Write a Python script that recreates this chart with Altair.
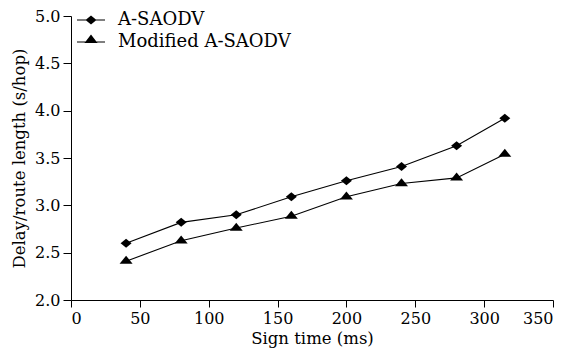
import altair as alt
import pandas as pd

# ---- data ----
sign_time = [40, 80, 120, 160, 200, 240, 280, 315]
a_saodv = [2.60, 2.82, 2.90, 3.09, 3.26, 3.41, 3.63, 3.92]
modified_a_saodv = [2.41, 2.625, 2.76, 2.885, 3.09, 3.23, 3.29, 3.54]
series_names = ["A-SAODV", "Modified A-SAODV"]
x_ticks = [0, 50, 100, 150, 200, 250, 300, 350]
y_ticks = [2.0, 2.5, 3.0, 3.5, 4.0, 4.5, 5.0]

rows = []
for name, vals in zip(series_names, [a_saodv, modified_a_saodv]):
    for t, v in zip(sign_time, vals):
        rows.append({"time": t, "value": v, "series": name})
df = pd.DataFrame(rows)

FONT = "DejaVu Serif"

# marker shapes (custom paths)
diamond = "M-1.1,0L0,-0.9L1.1,0L0,0.9Z"
triangle = "M0,-1.07L1.3,0.53L-1.3,0.53Z"
# legend symbols: thin bar (line) through the marker
leg_diamond = "M-1.4,-0.055L1.4,-0.055L1.4,0.055L-1.4,0.055Z M-0.55,0L0,-0.45L0.55,0L0,0.45Z"
leg_triangle = "M-1.4,-0.055L1.4,-0.055L1.4,0.055L-1.4,0.055Z M0,-0.75L0.65,0.1L-0.65,0.1Z"

x_enc = alt.X("time:Q", title="Sign time (ms)",
              scale=alt.Scale(domain=[0, 350], nice=False, zero=False),
              axis=alt.Axis(values=x_ticks, format="d", tickSize=7,
                            labelPadding=3, titlePadding=4))
y_enc = alt.Y("value:Q", title="Delay/route length (s/hop)",
              scale=alt.Scale(domain=[2, 5], nice=False, zero=False),
              axis=alt.Axis(values=y_ticks, format=".1f", tickSize=8,
                            labelPadding=3, titlePadding=7))

base = alt.Chart(df)

lines = base.mark_line(color="black", strokeWidth=1.1).encode(
    x=x_enc, y=y_enc, detail="series:N"
)

points = base.mark_point(filled=True, color="black", opacity=1, size=100).encode(
    x=x_enc, y=y_enc,
    shape=alt.Shape("series:N",
                    scale=alt.Scale(domain=series_names, range=[diamond, triangle]),
                    legend=None),
)

legend_layer = base.mark_point(filled=True, color="black", opacity=0, size=0).encode(
    x=x_enc, y=y_enc,
    shape=alt.Shape("series:N",
                    scale=alt.Scale(domain=series_names, range=[leg_diamond, leg_triangle]),
                    legend=alt.Legend(title=None, orient="none", legendX=10, legendY=-6,
                                      padding=0, symbolSize=400, symbolOpacity=1,
                                      symbolFillColor="black", symbolStrokeColor="black",
                                      symbolStrokeWidth=0, labelOffset=17,
                                      rowPadding=3, labelFont=FONT, labelFontSize=18,
                                      labelColor="black", labelLimit=300)),
)

chart = alt.layer(lines, points, legend_layer).resolve_scale(
    shape="independent"
).properties(
    width=482, height=284,
    autosize=alt.AutoSizeParams(type="none"),
    padding={"left": 63, "top": 8, "right": 5, "bottom": 52},
).configure_view(stroke=None).configure_axis(
    grid=False, domainColor="black", tickColor="black",
    labelFont=FONT, labelFontSize=16, labelColor="black",
    titleFont=FONT, titleFontSize=16.5, titleFontWeight="normal", titleColor="black",
    domainWidth=1, tickWidth=1,
)

chart.save("out.html", embed_options={"renderer": "svg", "actions": False})
